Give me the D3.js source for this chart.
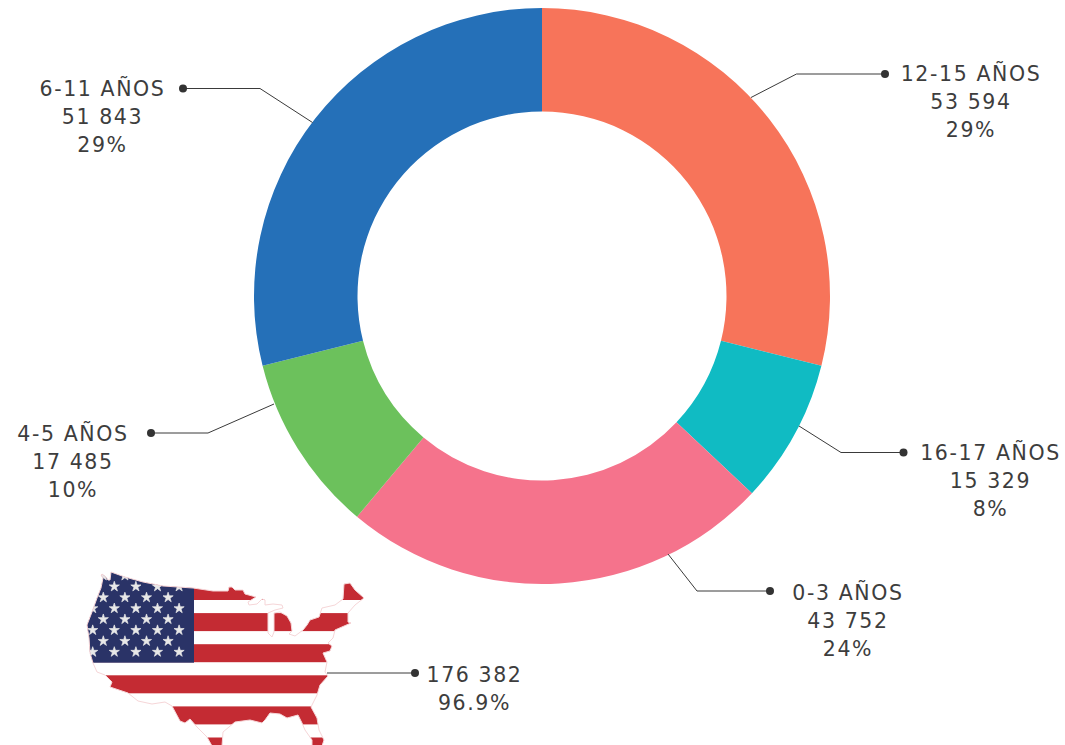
<!DOCTYPE html>
<html>
<head>
<meta charset="utf-8">
<script src="https://cdn.jsdelivr.net/npm/d3@7"></script>
<style>
  html, body { margin: 0; padding: 0; background: #fff; overflow: hidden; }
  text { font-family: "DejaVu Sans", sans-serif; font-size: 20.5px; fill: #3d3d3d; letter-spacing: 1.6px; text-anchor: middle; }
</style>
</head>
<body>
<div id="chart"></div>
<script>
// values
const categories = ["12-15 AÑOS", "16-17 AÑOS", "0-3 AÑOS", "4-5 AÑOS", "6-11 AÑOS"];
const counts = ["53 594", "15 329", "43 752", "17 485", "51 843"];
const percents = [29, 8, 24, 10, 29];
// slice sizes measured from the angles, a bit finer than the printed percents
const sliceShares = [28.9, 8.1, 24.1, 10, 28.9];
const colors = ["#f7745a", "#10bbc3", "#f5738c", "#6cc15c", "#2570b8"];
const usaLines = ["176 382", "96.9%"];

// label layout: leader line points (slice edge, elbow, dot) and text centre
const leaders = [
  { pts: [[751, 97.5], [796.5, 74], [885, 74]], x: 971, y: 81 },
  { pts: [[799, 426], [841, 452.5], [903.5, 452.5]], x: 990.5, y: 459.5 },
  { pts: [[668, 554], [697, 591], [770, 591]], x: 848, y: 599.5 },
  { pts: [[274, 404], [208, 433], [151, 433]], x: 73, y: 441 },
  { pts: [[312.5, 122.5], [260, 88.5], [183, 88.5]], x: 102.5, y: 95.5 }
];
const usaLeader = { pts: [[327, 673], [415, 673]], x: 474.5, y: 681.5 };

// outline of the map, traced
const usaOutline = [
  [102,574],[106,577],[108,580],[110,580],[111,572],[125,577],[143,582],[163,586],[193,588],[213,591],[228,591],
  [229,587],[232,587],[235,590],[243,590],[245,594],[256,597],[248,602],[249,605],[257,604],[262,599],[265,600],
  [265,605],[273,604],[282,605],[283,608],[275,610],[268,613],[268,633],[272,637],[274,632],[274,613],[280,612],
  [287,616],[291,623],[292,631],[289,634],[295,636],[303,630],[307,625],[310,620],[319,617],[322,608],[335,605],
  [343,599],[344,584],[350,583],[355,590],[364,598],[355,605],[348,613],[348,622],[351,623],[335,630],[333,638],
  [328,643],[332,646],[330,651],[323,653],[327,662],[325,672],[328,676],[320,685],[317,695],[311,707],[317,718],
  [319,730],[324,740],[322,746],[312,746],[312,740],[305,730],[302,723],[298,715],[287,718],[280,714],[270,713],
  [265,720],[262,723],[250,720],[235,722],[223,732],[222,746],[212,746],[207,737],[197,727],[190,719],[185,723],
  [180,721],[172,706],[165,702],[152,704],[138,701],[128,693],[110,687],[112,682],[105,675],[97,672],[93,663],
  [90,653],[89,638],[87,625],[92,612],[97,598],[101,588],[103,578],[101,575]
];

const width = 1065, height = 745;
const cx = 542, cy = 296, outerR = 288, innerR = 184.5;

const svg = d3.select("#chart").append("svg")
  .attr("width", width)
  .attr("height", height)
  .style("display", "block");

// donut
const pie = d3.pie().sort(null);
const arc = d3.arc().innerRadius(innerR).outerRadius(outerR);

svg.append("g")
  .attr("transform", `translate(${cx},${cy})`)
  .selectAll("path")
  .data(pie(sliceShares))
  .enter()
  .append("path")
  .attr("d", arc)
  .attr("fill", function (d, i) { return colors[i]; });

// flag map
const line = d3.line();
svg.append("clipPath").attr("id", "usa-clip")
  .append("path").attr("d", line(usaOutline) + "Z");

const flag = svg.append("g").attr("clip-path", "url(#usa-clip)");

flag.append("rect").attr("x", 80).attr("y", 565).attr("width", 300).attr("height", 180).attr("fill", "#fff");

flag.selectAll("rect.stripe")
  .data(d3.range(6))
  .enter()
  .append("rect")
  .attr("class", "stripe")
  .attr("x", 80)
  .attr("width", 300)
  .attr("y", function (d) { return 582 + d * 31.1; })
  .attr("height", 18)
  .attr("fill", "#c42b33");

flag.append("rect").attr("x", 80).attr("y", 565).attr("width", 114).attr("height", 97.7).attr("fill", "#2a3367");

const starRows = d3.range(8);
const stars = [];
starRows.forEach(function (r) {
  const x0 = r % 2 === 0 ? 103.3 : 92.7;
  const n = r % 2 === 0 ? 4 : 5;
  d3.range(n).forEach(function (c) { stars.push([x0 + c * 21.6, 575.7 + r * 10.9]); });
});
flag.selectAll("path.star")
  .data(stars)
  .enter()
  .append("path")
  .attr("class", "star")
  .attr("d", d3.symbol().type(d3.symbolStar).size(32))
  .attr("transform", function (d) { return `translate(${d[0]},${d[1]})`; })
  .attr("fill", "#e8e8e8")
  .attr("stroke", "#e8e8e8")
  .attr("stroke-width", 0.7);

svg.append("path")
  .attr("d", line(usaOutline) + "Z")
  .attr("fill", "none")
  .attr("stroke", "#f6d6d8")
  .attr("stroke-width", 1);

// leaders and labels
function addLabel(l, lines) {
  const g = svg.append("g");
  g.append("path")
    .attr("d", line(l.pts))
    .attr("fill", "none")
    .attr("stroke", "#3a3a3a")
    .attr("stroke-width", 1);
  const end = l.pts[l.pts.length - 1];
  g.append("circle").attr("cx", end[0]).attr("cy", end[1]).attr("r", 4).attr("fill", "#333");
  g.selectAll("text")
    .data(lines)
    .enter()
    .append("text")
    .attr("x", l.x)
    .attr("y", function (d, i) { return l.y + i * 28; })
    .text(function (d) { return d; });
}

leaders.forEach(function (l, i) {
  addLabel(l, [categories[i], counts[i], percents[i] + "%"]);
});
addLabel(usaLeader, usaLines);
</script>
</body>
</html>
